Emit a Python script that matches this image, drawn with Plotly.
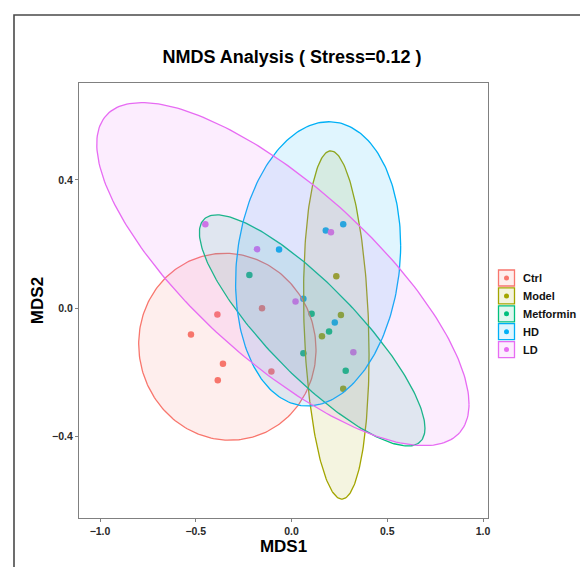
import numpy as np
import plotly.graph_objects as go

# ---- data ----
groups = ["Ctrl", "Model", "Metformin", "HD", "LD"]
colors = ["#F8766D", "#A3A500", "#00BF7D", "#00B0F6", "#E76BF3"]

ctrl_x = [-0.154, -0.387, -0.525, -0.358, -0.385, -0.105]
ctrl_y = [-0.001, -0.020, -0.083, -0.174, -0.226, -0.198]
model_x = [0.234, 0.258, 0.159, 0.270]
model_y = [0.099, -0.022, -0.088, -0.252]
metformin_x = [-0.220, 0.105, 0.196, 0.062, 0.283]
metformin_y = [0.103, -0.018, -0.073, -0.141, -0.196]
hd_x = [-0.065, 0.179, 0.270, 0.226, 0.062]
hd_y = [0.183, 0.242, 0.262, -0.045, 0.029]
ld_x = [-0.450, -0.180, 0.206, 0.021, 0.323]
ld_y = [0.262, 0.184, 0.237, 0.020, -0.138]

# ellipse parameters (centre, x/y half-extent, tilt factor)
ell_cx = [-0.335, 0.234, 0.108, 0.139, -0.045]
ell_cy = [-0.121, -0.053, -0.070, 0.138, 0.106]
ell_rx = [0.463, 0.171, 0.589, 0.431, 0.972]
ell_ry = [0.292, 0.544, 0.361, 0.444, 0.536]
ell_rho = [-0.03, -0.17, -0.846, 0.13, -0.758]

xs = [ctrl_x, model_x, metformin_x, hd_x, ld_x]
ys = [ctrl_y, model_y, metformin_y, hd_y, ld_y]

title_text = "NMDS Analysis ( Stress=0.12 )"
x_title, y_title = "MDS1", "MDS2"
x_ticks = [-1.0, -0.5, 0.0, 0.5, 1.0]
y_ticks = [-0.4, 0.0, 0.4]


def rgba(hex_color, a):
    h = hex_color.lstrip("#")
    r, g, b = int(h[0:2], 16), int(h[2:4], 16), int(h[4:6], 16)
    return f"rgba({r},{g},{b},{a})"


fig = go.Figure()

# points first (ellipse fills are drawn over them, as in the reference)
for g, c, x, y in zip(groups, colors, xs, ys):
    fig.add_trace(go.Scatter(x=x, y=y, mode="markers", name=g, legendgroup=g,
                             showlegend=False,
                             marker=dict(color=c, size=6.5, line=dict(width=0))))

t = np.linspace(0, 2 * np.pi, 241)
for g, c, cx, cy, rx, ry, rho in zip(groups, colors, ell_cx, ell_cy, ell_rx, ell_ry, ell_rho):
    phi = np.arccos(rho)
    ex = cx + rx * np.cos(t)
    ey = cy + ry * np.cos(t - phi)
    fig.add_trace(go.Scatter(x=ex, y=ey, mode="lines", fill="toself",
                             fillcolor=rgba(c, 0.12), name=g, legendgroup=g,
                             showlegend=False, hoverinfo="skip",
                             line=dict(color=c, width=1.3)))

# ---- layout geometry (page pixels; body margin removed below) ----
W, H = 580, 567
L, R, T, B = 79, 92, 83, 49
PW, PH = W - L - R, H - T - B


def px_to_paper_x(px):
    return (px - L) / PW


def px_to_paper_y(py):
    return (H - B - py) / PH


shapes = []
# outer frame
shapes.append(dict(type="rect", xref="paper", yref="paper",
                   x0=px_to_paper_x(14), x1=px_to_paper_x(620),
                   y0=px_to_paper_y(620), y1=px_to_paper_y(15),
                   line=dict(color="#4a4a4a", width=1.6), fillcolor="rgba(0,0,0,0)",
                   layer="below"))

annotations = []
legend_top = 278
legend_step = 17.9
for i, (g, c) in enumerate(zip(groups, colors)):
    cy = legend_top + i * legend_step
    shapes.append(dict(type="rect", xref="paper", yref="paper",
                       x0=px_to_paper_x(498.5), x1=px_to_paper_x(514.5),
                       y0=px_to_paper_y(cy + 8), y1=px_to_paper_y(cy - 8),
                       line=dict(color=c, width=1.3), fillcolor=rgba(c, 0.12)))
    shapes.append(dict(type="circle", xref="paper", yref="paper",
                       x0=px_to_paper_x(504), x1=px_to_paper_x(509),
                       y0=px_to_paper_y(cy + 2.5), y1=px_to_paper_y(cy - 2.5),
                       line=dict(color=c, width=0), fillcolor=c))
    annotations.append(dict(text=g, xref="paper", yref="paper",
                            x=px_to_paper_x(520.5), y=px_to_paper_y(cy),
                            xanchor="left", yanchor="middle", showarrow=False,
                            font=dict(family="Liberation Sans", size=11, color="#111111",
                                      weight="bold")))

axis_common = dict(showgrid=False, zeroline=False, showline=True, mirror=True,
                   automargin=False,
                   linecolor="#808080", linewidth=1.2, ticks="outside", ticklen=3,
                   tickwidth=1, tickcolor="#808080", tickformat=".1f",
                   tickfont=dict(family="Liberation Sans", size=10.5, color="#2a2a2a",
                                 weight="bold"))

fig.update_layout(
    width=W, height=H,
    margin=dict(l=L, r=R, t=T, b=B, autoexpand=False),
    paper_bgcolor="white", plot_bgcolor="white",
    showlegend=False,
    title=dict(text=title_text, x=292 / W, xanchor="center",
               y=1 - 57 / H, yanchor="middle",
               font=dict(family="Liberation Sans", size=18, color="black", weight="bold")),
    xaxis=dict(range=[-1.1097, 1.0261], tickvals=x_ticks,
               title=dict(text=x_title, standoff=4,
                          font=dict(family="Liberation Sans", size=17, color="black",
                                    weight="bold")),
               **axis_common),
    yaxis=dict(range=[-0.656, 0.703], tickvals=y_ticks,
               title=dict(text=y_title, standoff=4,
                          font=dict(family="Liberation Sans", size=17, color="black",
                                    weight="bold")),
               **axis_common),
    shapes=shapes,
    annotations=annotations,
)

fig.write_html("out.html",
               config={"displayModeBar": False},
               post_script="document.body.style.margin='0';"
                           "document.body.style.overflow='hidden';")
